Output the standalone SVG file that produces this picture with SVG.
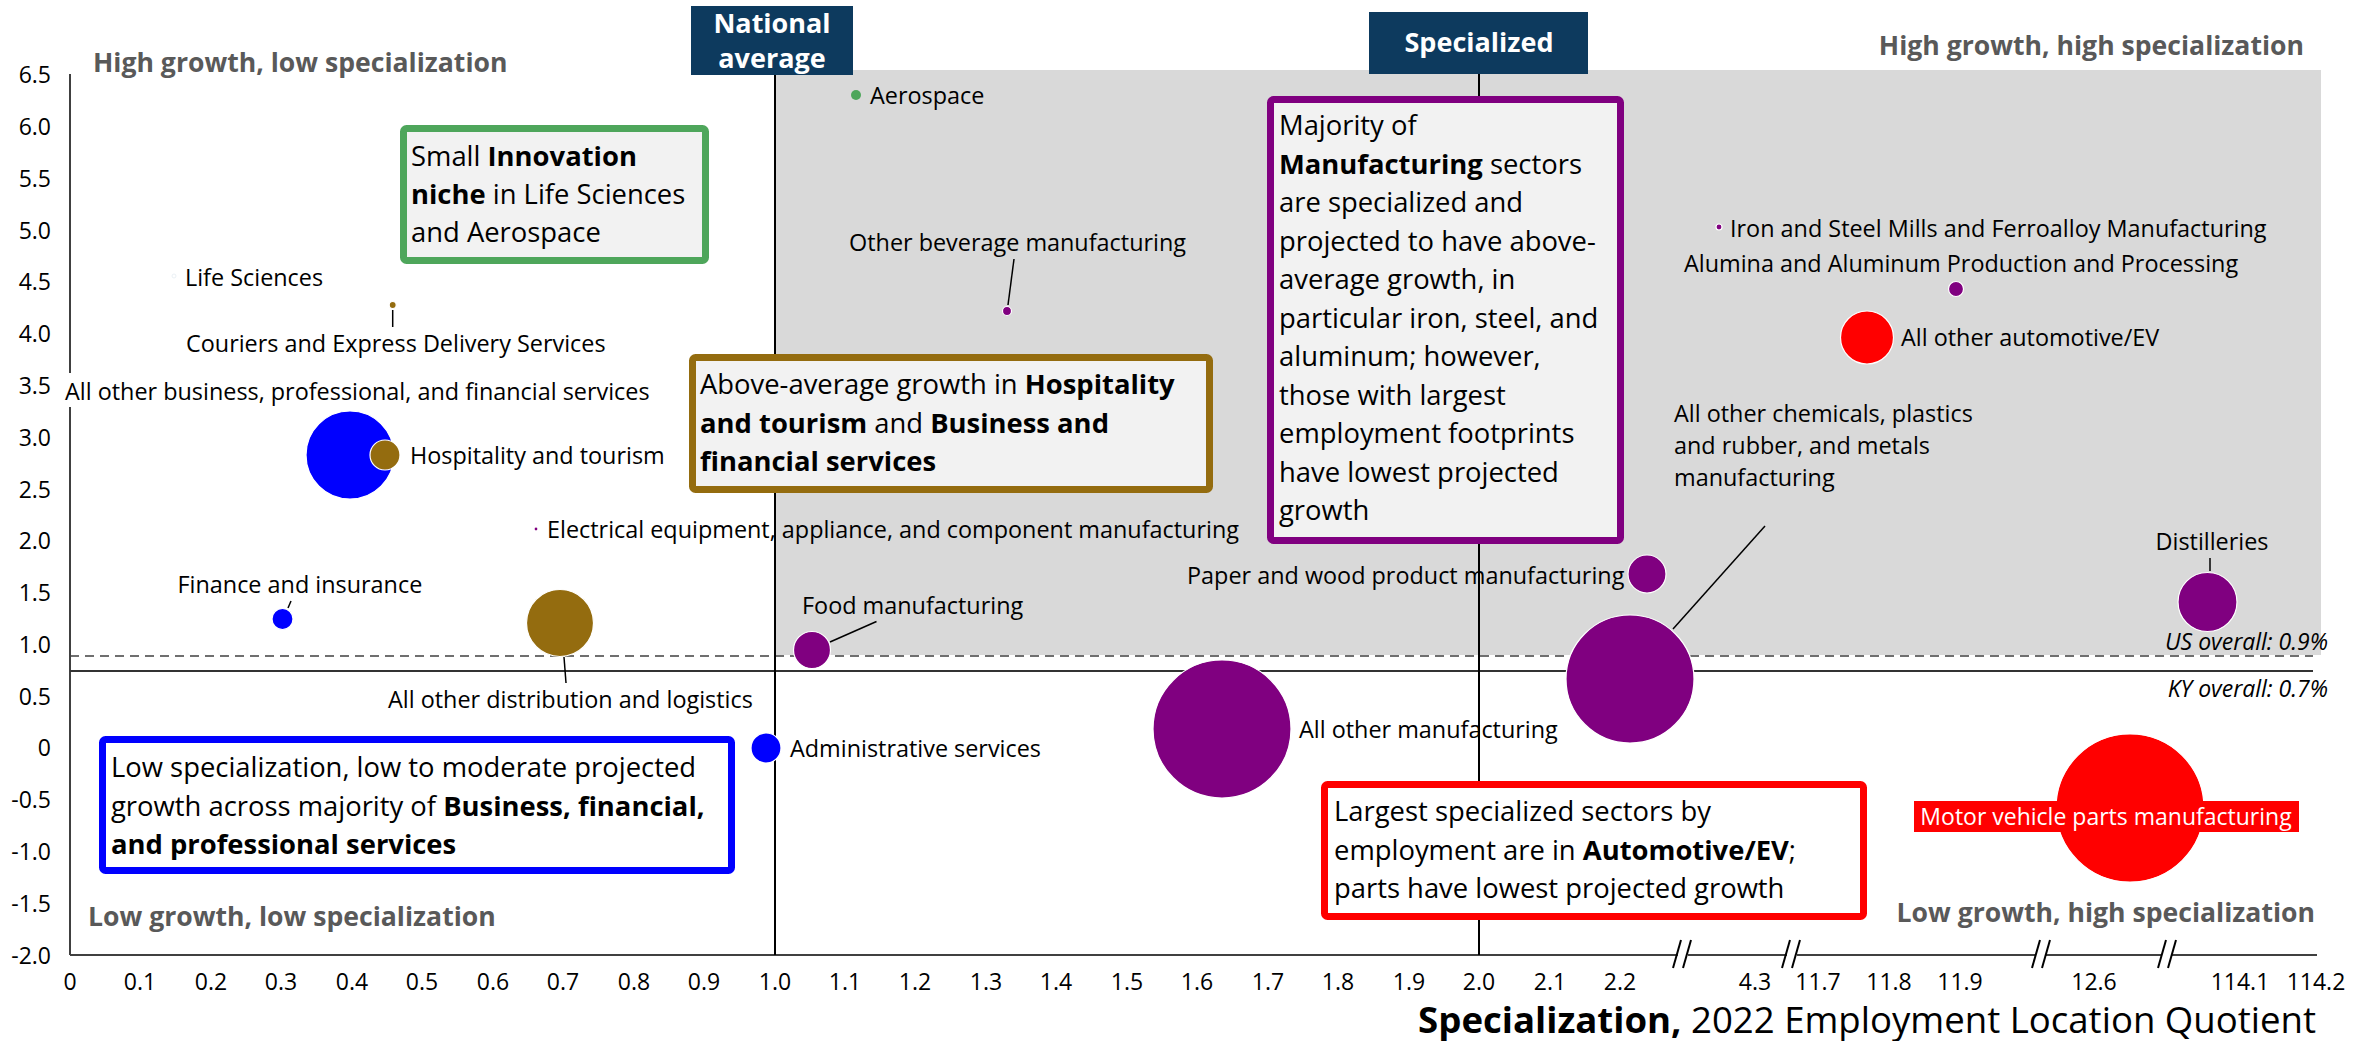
<svg xmlns="http://www.w3.org/2000/svg" width="2374" height="1041" viewBox="0 0 2374 1041">
<style>
text{font-family:"Open Sans","Noto Sans",sans-serif;fill:#000}
.lbl{font-size:23.4px}
.ytick{font-size:23px;text-anchor:end}
.xtick{font-size:23px;text-anchor:middle}
.quad{font-size:26.6px;font-weight:bold;fill:#595959}
.hdr{font-size:27px;font-weight:bold;fill:#fff;text-anchor:middle}
.note{font-size:27.4px}
.b{font-weight:bold}
.ital{font-size:23px;font-style:italic;text-anchor:end}
.ax{stroke:#404040;stroke-width:2;fill:none}
.ref{stroke:#000;stroke-width:2;fill:none}
.lead{stroke:#000;stroke-width:1.5;fill:none}
.bub{stroke:#fff;stroke-width:1.2}
.nbox{fill:#f2f2f2;stroke-width:7}
.blue{fill:#0000ff}.gold{fill:#946c0f}.purp{fill:#800080}.red{fill:#ff0000}.grn{fill:#4ea65b}
</style>
<rect width="2374" height="1041" fill="#fff"/>
<!-- high growth high specialization quadrant shading -->
<rect x="775" y="70" width="1546" height="585" fill="#d9d9d9"/>
<!-- axes and reference lines -->
<g id="axes">
<line class="ax" x1="70" y1="74" x2="70" y2="955"/>
<line class="ax" x1="70" y1="955" x2="2317" y2="955"/>
<line x1="70" y1="656" x2="2313" y2="656" stroke="#404040" stroke-width="1.6" stroke-dasharray="9 6"/>
<line x1="70" y1="671" x2="2313" y2="671" stroke="#333" stroke-width="2"/>
<line class="ref" x1="775" y1="74" x2="775" y2="955"/>
<line class="ref" x1="1479" y1="74" x2="1479" y2="955"/>
<!-- axis breaks -->
<g stroke="#fff" stroke-width="6">
<line x1="1678" y1="955" x2="1688" y2="955"/>
<line x1="1787" y1="955" x2="1797" y2="955"/>
<line x1="2036" y1="955" x2="2046" y2="955"/>
<line x1="2162" y1="955" x2="2172" y2="955"/>
</g>
<g stroke="#000" stroke-width="2">
<line x1="1673" y1="968" x2="1681" y2="940"/><line x1="1683" y1="968" x2="1691" y2="940"/>
<line x1="1782" y1="968" x2="1790" y2="940"/><line x1="1792" y1="968" x2="1800" y2="940"/>
<line x1="2032" y1="968" x2="2040" y2="940"/><line x1="2042" y1="968" x2="2050" y2="940"/>
<line x1="2158" y1="968" x2="2166" y2="940"/><line x1="2168" y1="968" x2="2176" y2="940"/>
</g>
</g>
<g id="y-ticks">
<text class="ytick" x="51" y="83">6.5</text>
<text class="ytick" x="51" y="135">6.0</text>
<text class="ytick" x="51" y="187">5.5</text>
<text class="ytick" x="51" y="239">5.0</text>
<text class="ytick" x="51" y="290">4.5</text>
<text class="ytick" x="51" y="342">4.0</text>
<text class="ytick" x="51" y="394">3.5</text>
<text class="ytick" x="51" y="446">3.0</text>
<text class="ytick" x="51" y="498">2.5</text>
<text class="ytick" x="51" y="549">2.0</text>
<text class="ytick" x="51" y="601">1.5</text>
<text class="ytick" x="51" y="653">1.0</text>
<text class="ytick" x="51" y="705">0.5</text>
<text class="ytick" x="51" y="756">0</text>
<text class="ytick" x="51" y="808">-0.5</text>
<text class="ytick" x="51" y="860">-1.0</text>
<text class="ytick" x="51" y="912">-1.5</text>
<text class="ytick" x="51" y="964">-2.0</text>
</g>
<g id="x-ticks">
<text class="xtick" x="70" y="990">0</text>
<text class="xtick" x="140" y="990">0.1</text>
<text class="xtick" x="211" y="990">0.2</text>
<text class="xtick" x="281" y="990">0.3</text>
<text class="xtick" x="352" y="990">0.4</text>
<text class="xtick" x="422" y="990">0.5</text>
<text class="xtick" x="493" y="990">0.6</text>
<text class="xtick" x="563" y="990">0.7</text>
<text class="xtick" x="634" y="990">0.8</text>
<text class="xtick" x="704" y="990">0.9</text>
<text class="xtick" x="775" y="990">1.0</text>
<text class="xtick" x="845" y="990">1.1</text>
<text class="xtick" x="915" y="990">1.2</text>
<text class="xtick" x="986" y="990">1.3</text>
<text class="xtick" x="1056" y="990">1.4</text>
<text class="xtick" x="1127" y="990">1.5</text>
<text class="xtick" x="1197" y="990">1.6</text>
<text class="xtick" x="1268" y="990">1.7</text>
<text class="xtick" x="1338" y="990">1.8</text>
<text class="xtick" x="1409" y="990">1.9</text>
<text class="xtick" x="1479" y="990">2.0</text>
<text class="xtick" x="1550" y="990">2.1</text>
<text class="xtick" x="1620" y="990">2.2</text>
<text class="xtick" x="1755" y="990">4.3</text>
<text class="xtick" x="1818" y="990">11.7</text>
<text class="xtick" x="1889" y="990">11.8</text>
<text class="xtick" x="1960" y="990">11.9</text>
<text class="xtick" x="2094" y="990">12.6</text>
<text class="xtick" x="2240" y="990">114.1</text>
<text class="xtick" x="2316" y="990">114.2</text>
</g>
<text x="2316" y="1033" text-anchor="end" font-size="36.6"><tspan font-weight="bold">Specialization,</tspan> 2022 Employment Location Quotient</text>
<!-- header boxes -->
<g id="national-average">
<rect x="691" y="6" width="162" height="69" fill="#0d3a5e"/>
<text class="hdr" x="772" y="33">National</text>
<text class="hdr" x="772" y="68">average</text>
</g>
<g id="specialized">
<rect x="1369" y="12" width="219" height="62" fill="#0d3a5e"/>
<text class="hdr" x="1479" y="52">Specialized</text>
</g>
<!-- quadrant labels -->
<g id="quadrant-labels">
<text class="quad" x="93" y="72">High growth, low specialization</text>
<text class="quad" x="2304" y="55" text-anchor="end">High growth, high specialization</text>
<text class="quad" x="88" y="926">Low growth, low specialization</text>
<text class="quad" x="2315" y="922" text-anchor="end">Low growth, high specialization</text>
</g>
<g id="reference-labels">
<text class="ital" x="2328" y="650">US overall: 0.9%</text>
<text class="ital" x="2328" y="697">KY overall: 0.7%</text>
</g>
<!-- connectors (leader lines) -->
<g id="connectors">
<line class="lead" x1="392.7" y1="310" x2="392.7" y2="327"/>
<line class="lead" x1="1014" y1="259" x2="1008" y2="305"/>
<line class="lead" x1="291" y1="601" x2="288" y2="608"/>
<line class="lead" x1="564" y1="657" x2="566" y2="683"/>
<line class="lead" x1="876.5" y1="621.5" x2="830" y2="642"/>
<line class="lead" x1="1765" y1="526" x2="1673" y2="629"/>
<line class="lead" x1="2210" y1="558" x2="2210" y2="571"/>
</g>
<!-- bubbles -->
<g id="life-sciences">
<circle cx="174" cy="276" r="2" fill="#fff" stroke="#e4ecf2" stroke-width="0.8"/>
<text class="lbl" x="185" y="286">Life Sciences</text>
</g>
<g id="couriers">
<circle class="bub gold" cx="392.7" cy="305" r="3.5"/>
<text class="lbl" x="186" y="352">Couriers and Express Delivery Services</text>
</g>
<g id="all-other-business">
<rect x="62" y="373" width="588" height="34" fill="#fff"/>
<text class="lbl" x="65" y="400">All other business, professional, and financial services</text>
<circle class="bub blue" cx="350" cy="455" r="44"/>
</g>
<g id="hospitality">
<circle class="bub gold" cx="385" cy="455" r="15"/>
<text class="lbl" x="410" y="464">Hospitality and tourism</text>
</g>
<g id="electrical-equipment">
<circle class="bub purp" cx="536" cy="529" r="2"/>
<text class="lbl" x="547" y="538">Electrical equipment, appliance, and component manufacturing</text>
</g>
<g id="finance">
<circle class="bub blue" cx="282.5" cy="619" r="10.5"/>
<text class="lbl" x="177.5" y="593">Finance and insurance</text>
</g>
<g id="distribution">
<circle class="bub gold" cx="560" cy="623" r="33.5"/>
<text class="lbl" x="388" y="708">All other distribution and logistics</text>
</g>
<g id="aerospace">
<circle class="grn" cx="856" cy="95" r="5"/>
<text class="lbl" x="870" y="104">Aerospace</text>
</g>
<g id="other-beverage">
<circle class="bub purp" cx="1007" cy="311" r="4.5"/>
<text class="lbl" x="849" y="251">Other beverage manufacturing</text>
</g>
<g id="food">
<circle class="bub purp" cx="812" cy="650" r="18.5"/>
<text class="lbl" x="802" y="614">Food manufacturing</text>
</g>
<g id="administrative">
<circle class="bub blue" cx="766" cy="748" r="15"/>
<text class="lbl" x="790" y="757">Administrative services</text>
</g>
<g id="all-other-manufacturing">
<circle class="bub purp" cx="1222" cy="729" r="69"/>
<text class="lbl" x="1299" y="738">All other manufacturing</text>
</g>
<g id="paper-wood">
<circle class="bub purp" cx="1647" cy="574" r="19"/>
<text class="lbl" x="1187" y="584">Paper and wood product manufacturing</text>
</g>
<g id="chemicals-plastics-metals">
<circle class="bub purp" cx="1630" cy="679" r="64"/>
<text class="lbl" x="1674" y="422">All other chemicals, plastics</text>
<text class="lbl" x="1674" y="454">and rubber, and metals</text>
<text class="lbl" x="1674" y="486">manufacturing</text>
</g>
<g id="iron-steel">
<circle class="bub purp" cx="1719" cy="227" r="3"/>
<text class="lbl" x="1730" y="237">Iron and Steel Mills and Ferroalloy Manufacturing</text>
</g>
<g id="alumina">
<circle class="bub purp" cx="1956" cy="289" r="7.5"/>
<text class="lbl" x="1684" y="272">Alumina and Aluminum Production and Processing</text>
</g>
<g id="other-automotive">
<circle class="bub red" cx="1867" cy="337.5" r="26.5"/>
<text class="lbl" x="1901" y="346">All other automotive/EV</text>
</g>
<g id="distilleries">
<circle class="bub purp" cx="2207.5" cy="602" r="29.5"/>
<text class="lbl" x="2212" y="550" text-anchor="middle">Distilleries</text>
</g>
<g id="motor-vehicle-parts">
<circle class="bub red" cx="2130" cy="808" r="74"/>
<rect x="1914" y="801" width="385" height="31" fill="#ff0000"/>
<text class="lbl" x="2106" y="825" text-anchor="middle" style="fill:#fff;font-size:23px">Motor vehicle parts manufacturing</text>
</g>
<!-- annotation boxes -->
<g id="note-innovation">
<rect class="nbox" x="403.5" y="128.5" width="302" height="132" rx="3" stroke="#4ea65b"/>
<text class="note" x="411" y="166">Small <tspan class="b">Innovation</tspan></text>
<text class="note" x="411" y="204"><tspan class="b">niche</tspan> in Life Sciences</text>
<text class="note" x="411" y="242">and Aerospace</text>
</g>
<g id="note-hospitality">
<rect class="nbox" x="692.5" y="357.5" width="517" height="132" rx="3" stroke="#946c0f"/>
<text class="note" x="700" y="394">Above-average growth in <tspan class="b">Hospitality</tspan></text>
<text class="note" x="700" y="433"><tspan class="b">and tourism</tspan> and <tspan class="b">Business and</tspan></text>
<text class="note" x="700" y="471"><tspan class="b">financial services</tspan></text>
</g>
<g id="note-manufacturing">
<rect class="nbox" x="1270.5" y="99.5" width="350" height="441" rx="3" stroke="#800080"/>
<text class="note" x="1279" y="135">Majority of</text>
<text class="note" x="1279" y="173.5"><tspan class="b">Manufacturing</tspan> sectors</text>
<text class="note" x="1279" y="212">are specialized and</text>
<text class="note" x="1279" y="250.5">projected to have above-</text>
<text class="note" x="1279" y="289">average growth, in</text>
<text class="note" x="1279" y="327.5">particular iron, steel, and</text>
<text class="note" x="1279" y="366">aluminum; however,</text>
<text class="note" x="1279" y="404.5">those with largest</text>
<text class="note" x="1279" y="443">employment footprints</text>
<text class="note" x="1279" y="481.5">have lowest projected</text>
<text class="note" x="1279" y="520">growth</text>
</g>
<g id="note-business">
<rect class="nbox" x="102.5" y="739.5" width="629" height="131" rx="3" stroke="#0000ff" style="fill:#fff"/>
<text class="note" x="111" y="777">Low specialization, low to moderate projected</text>
<text class="note" x="111" y="816">growth across majority of <tspan class="b">Business, financial,</tspan></text>
<text class="note" x="111" y="854"><tspan class="b">and professional services</tspan></text>
</g>
<g id="note-automotive">
<rect class="nbox" x="1324.5" y="784.5" width="539" height="132" rx="3" stroke="#ff0000" style="fill:#fff"/>
<text class="note" x="1334" y="821">Largest specialized sectors by</text>
<text class="note" x="1334" y="860">employment are in <tspan class="b">Automotive/EV</tspan>;</text>
<text class="note" x="1334" y="898">parts have lowest projected growth</text>
</g>
</svg>
